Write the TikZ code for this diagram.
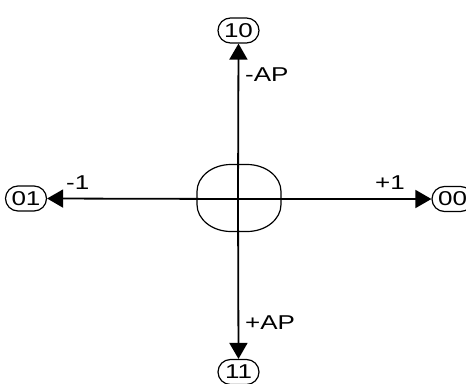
\documentclass[tikz,border=0pt]{standalone}
\usepackage{fontspec}
\setmainfont{Liberation Sans}
\newfontfamily\widefont[FakeStretch=1.3]{Liberation Sans}
\usetikzlibrary{arrows.meta,shapes.misc}
\tikzset{
  state/.style={draw, line width=1.2pt, rounded rectangle, minimum width=41pt, minimum height=25pt, inner sep=0pt, font=\widefont\fontsize{20}{20}\selectfont},
  hub/.style={line width=1.2pt},
  arr/.style={line width=1.8pt, -{Triangle[length=16pt,width=18pt]}},
  lbl/.style={inner sep=0pt, font=\widefont\fontsize{20}{20}\selectfont},
}
\begin{document}
\begin{tikzpicture}[x=1pt,y=-1pt]
\useasboundingbox (0,0) rectangle (466,383);
\draw[hub] (247,164.5) arc[start angle=-90, end angle=0, x radius=34, y radius=27]
  -- (281,204.5) arc[start angle=0, end angle=90, x radius=34, y radius=27]
  -- (231,231.5) arc[start angle=90, end angle=180, x radius=34, y radius=27]
  -- (197,191.5) arc[start angle=180, end angle=270, x radius=34, y radius=27] -- cycle;
\node[state] (n10) at (238.5,30.5) {10};
\node[state] (n11) at (238.5,372) {11};
\node[state] (n01) at (26,198.5) {01};
\node[state] (n00) at (452.5,199) {00};
\coordinate (o) at (238,199);
\draw[arr] (o) -- (n10.south);
\draw[arr] (o) -- (n11.north);
\draw[arr] (o) -- (n01.east);
\draw[arr] (o) -- (n00.west);
\node[lbl, anchor=west] (l1) at (245,75) {-AP};
\node[lbl, anchor=west] (l2) at (245,323) {+AP};
\node[lbl, anchor=west] (l3) at (66,183) {-1};
\node[lbl, anchor=west] (l4) at (375,183) {+1};
\end{tikzpicture}
\end{document}
